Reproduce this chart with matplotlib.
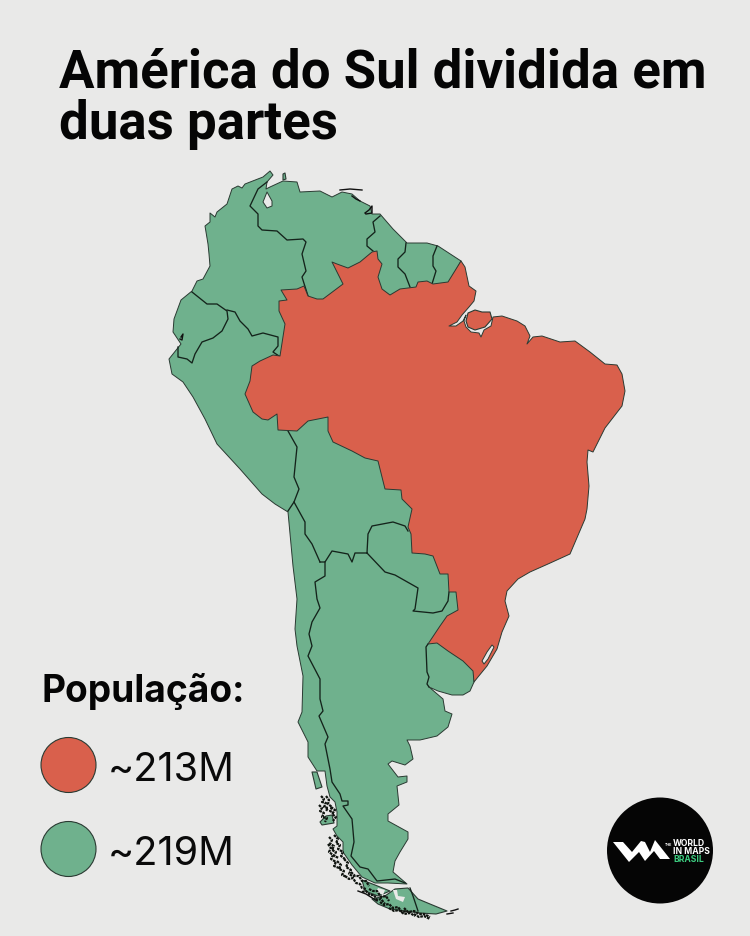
import matplotlib
matplotlib.use("Agg")
import matplotlib.pyplot as plt
from matplotlib.patches import Polygon, Circle

BG = "#E9E9E8"
RED = "#D9604C"
GREEN = "#6FB18D"
EDGE = "#2A3A32"

TITLE_LINES = ["América do Sul dividida em", "duas partes"]
LEGEND_TITLE = "População:"
LEGEND_LABELS = ["~213M", "~219M"]
LOGO_LINES = ["WORLD", "IN MAPS", "BRASIL"]

# Map outlines (x right, y down)
CONTINENT = [
    (192,292),(197,282),(203,280),(210,267),(209,255),(208,245),(205,227),(210,223),(210,214),(215,218),(217,213),
    (227,205),(232,190),(238,187),(242,189),(245,185),(263,178),(270,172),(273,176),(267,183),(266,190),
    (270,188),(283,182),(297,183),(300,193),(320,192),(332,198),(342,193),(352,195),(360,202),(370,207),
    (372,215),(380,215),(393,230),(407,244),(427,244),(438,247),(461,262),(440,300),(420,400),(475,600),
    (474,683),(470,692),(463,696),(452,696),(438,692),(429,688),(443,700),(445,712),(452,715),(448,728),
    (437,737),(420,741),(407,741),(410,747),(413,760),(405,766),(392,762),(388,765),(398,778),(407,777),
    (407,783),(397,787),(399,806),(388,815),(388,822),(408,833),(408,840),(400,853),(395,862),(393,873),
    (407,885),(388,884),(375,884),(362,878),(352,866),(343,853),(343,843),(337,837),(333,830),(337,827),
    (337,813),(335,803),(330,798),(327,787),(325,772),(317,772),(308,758),(308,743),(298,723),(302,713),
    (303,677),(297,647),(295,630),(297,600),(293,567),(288,513),(275,505),(262,495),(240,470),(217,445),(205,420),(193,398),(183,383),
    (172,375),(169,360),(177,350),(181,345),(173,333),(174,320),(181,301),
]
BRAZIL = [
    (332,263),(337,265),(348,269),(360,263),(372,253),(377,252),(378,260),(382,265),(378,278),(382,290),
    (390,296),(400,290),(416,288),(418,283),(427,282),(433,285),(448,283),(461,262),(465,268),(469,287),
    (476,292),(474,302),(469,308),(462,316),(457,323),(449,327),(456,327),(463,322),(466,316),(464,322),
    (466,328),(471,333),(479,334),(481,338),(484,331),(491,327),(493,318),(502,317),(517,322),(525,327),
    (530,337),(527,345),(533,338),(542,337),(560,343),(575,342),(590,353),(605,365),(617,366),(622,375),
    (625,392),(622,407),(605,429),(598,443),(593,453),(588,451),(587,463),(589,487),(587,510),(585,520),
    (570,555),(548,565),(530,573),(518,580),(507,592),(505,602),(509,617),(502,633),(497,650),(487,667),
    (478,678),(474,683),(473,672),(463,662),(448,652),(437,644),(428,645),(440,627),(447,617),(458,611),
    (456,593),(449,593),(448,575),(440,575),(433,557),(425,555),(412,554),(411,535),(408,528),(412,510),
    (402,500),(401,491),(385,490),(382,478),(378,462),(365,459),(352,452),(333,443),(328,432),(328,418),
    (308,422),(297,432),(278,431),(277,415),(268,421),(262,420),(253,413),(245,395),(250,382),(252,367),
    (260,362),(273,356),(280,357),(285,325),(279,312),(279,302),(287,301),(281,291),(297,290),(304,287),
    (308,297),(317,300),(323,300),(343,285),(338,275),
]
MARAJO = [(468,314),(475,311),(482,313),(490,313),(492,320),(485,328),(475,331),(468,328),(466,322)]
LAKES = [
    [(267,193),(272,202),(272,207),(267,209),(263,203)],
    [(492,646),(494,648),(488,660),(484,665),(482,662),(487,653)],
]
BORDERS = [
    [(192,293),(207,305),(217,305),(227,312),(228,320),(222,332),(213,339),(202,343),(195,355),(192,364),(187,360),(178,358),(178,348)],
    [(227,311),(235,313),(240,322),(248,330),(252,337),(263,334),(278,338),(278,347),(273,353),(279,357)],
    [(267,183),(258,190),(250,207),(258,215),(258,227),(262,231),(277,232),(287,241),(303,240),(306,243),(302,255),(306,272),(302,278),(308,297)],
    [(380,217),(373,223),(375,233),(367,240),(367,247),(373,252)],
    [(406,244),(405,253),(398,260),(398,268),(405,275),(410,288)],
    [(437,247),(433,257),(433,267),(436,272),(432,285)],
    [(288,432),(297,448),(294,478),(299,490),(294,503),(288,512)],
    [(294,503),(305,523),(305,535),(312,545),(320,563)],
    [(320,563),(325,563),(332,552),(348,555),(352,563),(355,554),(367,554)],
    [(367,554),(368,535),(372,527),(393,523),(405,527),(408,532)],
    [(367,554),(385,573),(395,576),(418,589),(415,610),(413,612),(433,614),(442,612),(448,602),(449,593)],
    [(325,563),(325,577),(315,583),(317,600),(320,609),(312,623),(309,635),(312,647),(308,657),(320,680),(320,700),(323,712),
     (319,717),(328,738),(325,745),(330,770),(332,783),(340,795),(342,802),(348,802),(348,806),(343,807),(352,820),(354,843),
     (351,857),(360,868),(368,870),(377,882),(395,880),(405,884)],
    [(428,645),(426,648),(427,673),(429,678),(427,685),(429,688)],
    [(410,889),(413,897),(418,912)],
]
ISLANDS = [
    [(312,773),(317,773),(322,788),(316,790)],
    [(283,175),(285,174),(286,180),(283,181)],
    [(395,890),(408,889),(418,900),(430,905),(447,912),(436,915),(420,914),(405,912),(390,910),(378,905),(372,900),(385,897)],
    [(362,881),(375,886),(390,892),(378,897),(365,892)],
    [(320,823),(326,817),(332,816),(334,824),(328,825),(322,826)],
]
ISLAND_GAPS = [
    [(393,891),(397,891),(398,897),(405,898),(403,903),(396,900)],
    [(378,889),(385,891),(383,896),(376,893)],
]
# dark, finely broken coast of the southern islands and river mouths
SCRIBBLES = [
    [(321,797),(324,800),(322,803),(326,804),(324,808),(328,809),(326,812)],
    [(326,797),(329,801),(328,805),(332,808),(330,812),(334,814)],
    [(319,806),(322,809),(320,812),(324,814),(322,818),(327,819),(325,823)],
    [(331,808),(335,811),(332,815),(336,818),(333,822)],
    [(329,838),(332,841),(330,845),(334,847),(332,851),(336,853),(334,857),(339,859)],
    [(334,836),(338,840),(336,844),(340,846),(338,850),(343,853),(341,857),(345,860)],
    [(328,845),(331,849),(329,853),(333,856),(331,860),(336,863),(334,867),(339,869)],
    [(337,862),(341,866),(339,870),(344,872),(342,876),(347,878)],
    [(344,860),(348,864),(346,868),(351,871),(349,875),(354,878)],
    [(345,877),(349,880),(353,879),(356,884),(360,885),(362,889),(366,890)],
    [(351,873),(355,877),(359,877),(362,882),(366,882),(369,887)],
    [(362,893),(366,892),(370,896),(374,896),(377,901),(381,900),(385,905)],
    [(369,890),(373,892),(377,892),(381,898),(386,897),(389,902)],
    [(380,903),(384,906),(389,905),(393,909),(398,908),(402,913),(407,912)],
    [(389,909),(394,912),(399,911),(404,915),(410,914),(415,917)],
    [(404,909),(408,913),(414,912),(419,915),(424,915),(430,918)],
    [(414,915),(419,918),(424,917),(430,920)],
]
THIN_LINES = [
    [(358,892),(366,895),(377,902)],
    [(340,191),(350,190),(362,191)],
    [(352,197),(356,200),(360,202)],
    [(365,214),(369,211),(372,207),(372,214),(366,215)],
    [(181,338),(183,335),(182,341),(180,340)],
    [(451,912),(455,911),(458,910)],
    [(447,915),(453,914)],
]
LOGO_MARK = [(613,843),(623,843),(632,853),(641,842),(645,843),(650,853),(655,841),(670,860),(660,860),(654,852),(645,862),(639,853),(629,863)]

fig = plt.figure(figsize=(7.5, 9.37), dpi=100, facecolor=BG)
ax = fig.add_axes([0, 0, 1, 1])
ax.set_xlim(0, 750)
ax.set_ylim(937, 0)
ax.axis("off")

def shape(pts, fc, lw=0.7, z=2):
    ax.add_patch(Polygon(pts, closed=True, fc=fc, ec=EDGE, lw=lw, joinstyle="round", zorder=z))

for isl in ISLANDS:
    shape(isl, GREEN, 0.8, 2)
shape(CONTINENT, GREEN, 0.7, 2)
for line in BORDERS:
    xs, ys = zip(*line)
    ax.plot(xs, ys, color="#14231B", lw=0.95, solid_joinstyle="round", zorder=3)
shape(BRAZIL, RED, 0.7, 4)
shape(MARAJO, RED, 0.8, 4)
for lake in LAKES:
    shape(lake, BG, 0.7, 5)
for gap in ISLAND_GAPS:
    ax.add_patch(Polygon(gap, closed=True, fc=BG, ec="none", zorder=3.5))
for line in SCRIBBLES:
    xs, ys = zip(*line)
    ax.plot(xs, ys, color="#101510", lw=1.6, ls=(0, (1.2, 0.4)), zorder=3.6)
for line in THIN_LINES:
    xs, ys = zip(*line)
    ax.plot(xs, ys, color="#111111", lw=1.0, zorder=5)

ax.text(59, 88, TITLE_LINES[0], family="Roboto", weight="bold", fontsize=38, color="#050505", va="baseline", zorder=6)
ax.text(59, 139, TITLE_LINES[1], family="Roboto", weight="bold", fontsize=38, color="#050505", va="baseline", zorder=6)
ax.text(42, 702, LEGEND_TITLE, family="Inter", weight="bold", fontsize=26.7, color="#050505", va="baseline")

for cy, col, lab in zip([766, 850], [RED, GREEN], LEGEND_LABELS):
    ax.add_patch(Circle((68.5, cy), 27.5, fc=col, ec=EDGE, lw=0.8))
    ax.text(108, cy + 15, lab, family="Inter", fontsize=28.5, color="#0A0A0A", va="baseline")

ax.add_patch(Circle((660, 851.5), 53, fc="#050505", ec="none"))
ax.add_patch(Polygon(LOGO_MARK, closed=True, fc="white", ec="none", zorder=3))
ax.text(665, 846, "THE", family="Inter", weight="bold", fontsize=2.6, color="white", va="baseline", zorder=3)
for y, txt, col in zip([846, 854, 862], LOGO_LINES, ["white", "white", "#3CCB7F"]):
    ax.text(673, y, txt, family="Inter", weight="bold", fontsize=6.2, color=col, va="baseline", zorder=3)

fig.savefig("out.png", dpi=100, facecolor=BG)
